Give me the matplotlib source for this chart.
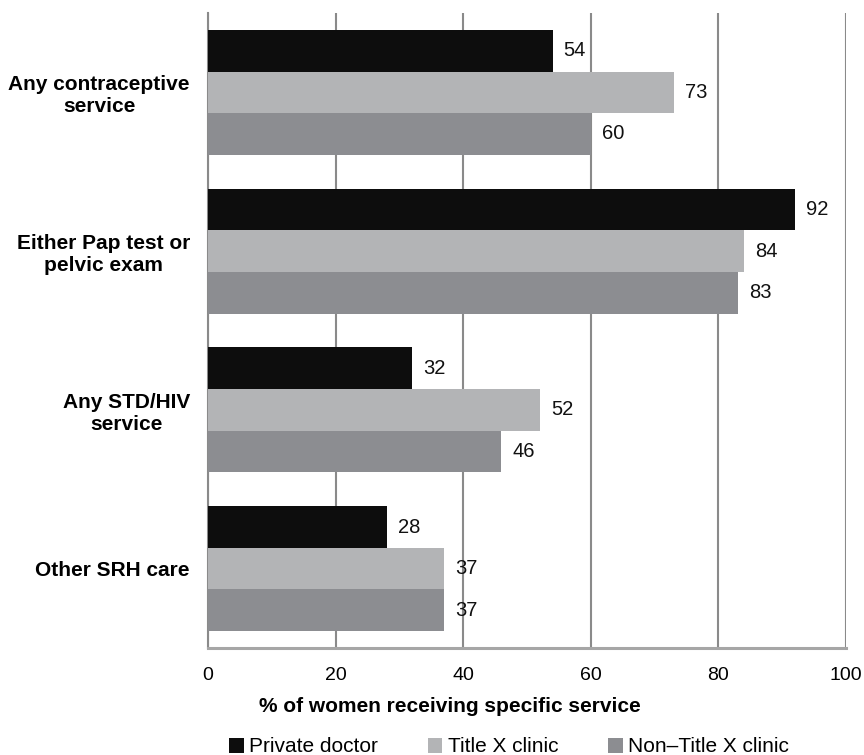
import matplotlib
matplotlib.use("Agg")
import matplotlib.pyplot as plt
import numpy as np
from matplotlib.patches import Patch

plt.rcParams['font.family'] = ['Liberation Sans', 'DejaVu Sans']

categories = ["Any contraceptive\nservice", "Either Pap test or\npelvic exam",
              "Any STD/HIV\nservice", "Other SRH care"]
series_names = ["Private doctor", "Title X clinic", "Non\u2013Title X clinic"]
private_doctor = [54, 92, 32, 28]
title_x = [73, 84, 52, 37]
non_title_x = [60, 83, 46, 37]
xticks = [0, 20, 40, 60, 80, 100]

colors = ["#0d0d0d", "#b3b4b6", "#8c8d91"]
grid_c = "#8a8a8a"

fig = plt.figure(figsize=(8.64, 7.55), dpi=100)
ax = fig.add_axes([208/864, 1-648/755, (846-208)/864, (648-13)/755])

y = np.arange(len(categories))
h = 0.262
offsets = [-h, 0, h]
for vals, off, c, name in zip([private_doctor, title_x, non_title_x], offsets, colors, series_names):
    bars = ax.barh(y + off, vals, height=h, color=c, label=name, zorder=3)
    for b, v in zip(bars, vals):
        ax.annotate(f"{v}", xy=(v, b.get_y() + b.get_height()/2), xytext=(8, 0),
                    textcoords="offset points", ha="left", va="center",
                    fontsize=14.5, color="#111111", zorder=4)

ax.set_xlim(0, 100)
ax.set_ylim(len(categories) - 0.5, -0.5)
ax.set_xticks(xticks)
ax.set_xticklabels([str(t) for t in xticks], fontsize=14)
ax.set_yticks(y)
ax.set_yticklabels(categories, fontsize=15, fontweight="bold")
for lab in ax.get_yticklabels():
    lab.set_multialignment("center")
ax.tick_params(axis="both", length=0)
ax.tick_params(axis="x", pad=14)
ax.tick_params(axis="y", pad=13)

ax.grid(axis="x", color=grid_c, linewidth=1.5, zorder=0)
ax.set_axisbelow(True)
for s in ["top", "right"]:
    ax.spines[s].set_visible(False)
ax.spines["left"].set_color(grid_c)
ax.spines["left"].set_linewidth(1.5)
ax.spines["bottom"].set_color("#a6a6a6")
ax.spines["bottom"].set_linewidth(2.2)

fig.text(450/864, 1-706/755, "% of women receiving specific service",
         ha="center", va="center", fontsize=15, fontweight="bold")

handles = [Patch(facecolor=c, edgecolor="none") for c in colors]
leg = fig.legend(handles, series_names, loc="center", bbox_to_anchor=(509/864, 1-747/755),
                 ncol=3, frameon=False, fontsize=15, handlelength=0.7, handleheight=0.7,
                 handletextpad=0.25, columnspacing=2.4, borderpad=0, borderaxespad=0)

fig.savefig("out.png", dpi=100)
